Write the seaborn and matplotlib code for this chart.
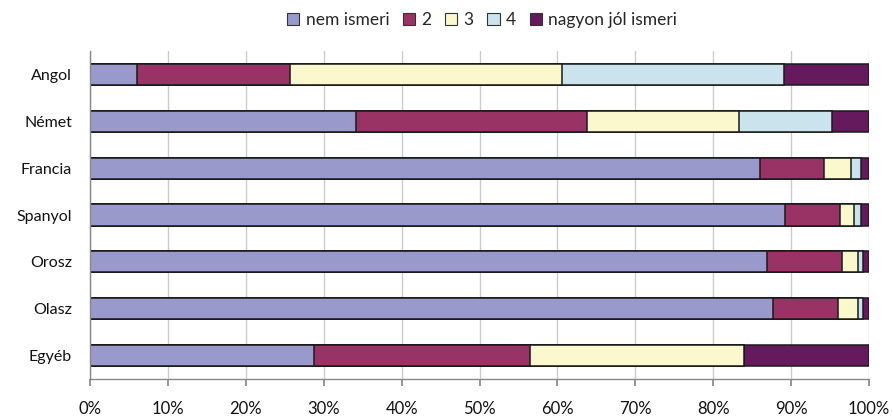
import matplotlib
matplotlib.use("Agg")
import matplotlib.pyplot as plt
import seaborn as sns
import pandas as pd
import numpy as np
from matplotlib.patches import Patch

categories = ["Angol", "Német", "Francia", "Spanyol", "Orosz", "Olasz", "Egyéb"]
series_names = ["nem ismeri", "2", "3", "4", "nagyon jól ismeri"]
nem_ismeri = [6.0, 34.1, 86.0, 89.2, 86.9, 87.7, 28.8]
s2 = [19.7, 29.7, 8.2, 7.1, 9.6, 8.3, 27.7]
s3 = [34.9, 19.5, 3.5, 1.8, 2.1, 2.6, 27.5]
s4 = [28.5, 12.0, 1.3, 0.9, 0.6, 0.6, 0.0]
nagyon = [10.9, 4.7, 1.0, 1.0, 0.8, 0.8, 16.0]
xtick_labels = ["0%", "10%", "20%", "30%", "40%", "50%", "60%", "70%", "80%", "90%", "100%"]

colors = ["#9999CC", "#993366", "#FAF8CC", "#CAE3EC", "#661A5E"]

sns.set_theme(style="white")
plt.rcParams["font.family"] = ["Lato", "DejaVu Sans"]

series = [nem_ismeri, s2, s3, s4, nagyon]
cum = np.cumsum(np.array(series), axis=0)

fig = plt.figure(figsize=(8.93, 4.18), dpi=100)
ax = fig.add_axes([90 / 893, 1 - 379 / 418, (869 - 90) / 893, (379 - 51) / 418])

ax.set_axisbelow(True)
ax.xaxis.grid(True, color="#CCCCCC", linewidth=1)

for i in range(len(series) - 1, -1, -1):
    df = pd.DataFrame({"cat": categories, "val": cum[i]})
    sns.barplot(data=df, y="cat", x="val", orient="h", color=colors[i],
                saturation=1, width=0.45, edgecolor="#1a1a1a", linewidth=1.1, ax=ax,
                order=categories)

ax.set_xlim(0, 100)
ax.set_ylim(len(categories) - 0.5, -0.5)
ax.set_xticks(np.arange(0, 101, 10))
ax.set_xticklabels(xtick_labels, fontsize=12, color="#111111")
ax.set_yticks(range(len(categories)))
ax.set_yticklabels(categories, fontsize=11.5, color="#111111")
ax.set_xlabel("")
ax.set_ylabel("")
ax.tick_params(axis="y", length=0, pad=13)
ax.tick_params(axis="x", length=5, color="#888888", pad=11, direction="out")
ax.yaxis.set_minor_locator(matplotlib.ticker.FixedLocator(np.arange(-0.5, len(categories), 1)))
ax.tick_params(axis="y", which="minor", length=5, color="#888888", direction="out")
ax.xaxis.set_tick_params(bottom=True)

for s in ["top", "right"]:
    ax.spines[s].set_visible(False)
ax.spines["left"].set_color("#888888")
ax.spines["bottom"].set_color("#888888")
ax.spines["left"].set_linewidth(1)
ax.spines["bottom"].set_linewidth(1)

handles = [Patch(facecolor=c, edgecolor="#333333", linewidth=0.8) for c in colors]
fig.legend(handles, series_names, loc="center", bbox_to_anchor=(482 / 893, 1 - 20 / 418),
           ncol=5, frameon=False, fontsize=12.5, handlelength=0.7, handleheight=0.7,
           handletextpad=0.35, columnspacing=0.8)

fig.savefig("out.png", dpi=100)
